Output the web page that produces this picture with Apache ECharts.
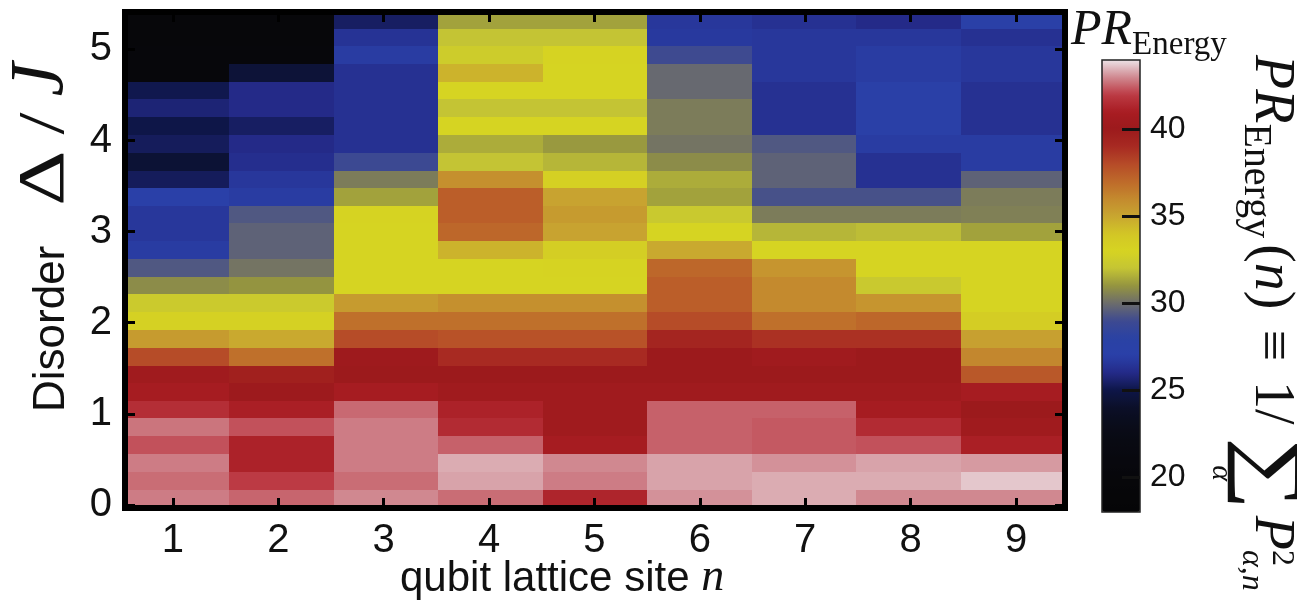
<!DOCTYPE html>
<html>
<head>
<meta charset="utf-8">
<script src="https://cdn.jsdelivr.net/npm/echarts@6/dist/echarts.min.js"></script>
<style>
  html, body { margin: 0; padding: 0; background: #fff; }
  #chart { width: 1297px; height: 606px; }
</style>
</head>
<body>
<div id="chart"></div>
<script>
// qubit lattice sites n
const sites = [1, 2, 3, 4, 5, 6, 7, 8, 9];
// disorder strength Δ/J at the centre of each row, bottom to top
const disorder = [0.07, 0.27, 0.46, 0.66, 0.85, 1.05, 1.24, 1.43, 1.63, 1.82, 2.02, 2.21, 2.41, 2.60,
                  2.80, 2.99, 3.19, 3.38, 3.57, 3.77, 3.96, 4.16, 4.35, 4.55, 4.74, 4.94, 5.13, 5.32];

// PR_Energy(n) per site, one value per disorder row (bottom to top)
const prSite1 = [42.85, 42.65, 42.85, 42.3, 42.75, 41.6, 40.8, 40.3, 38.0, 35.4, 33.2, 32.4, 30.8, 29.4,
                 26.8, 26.6, 26.6, 27.1, 25.3, 24.4, 25.3, 25.0, 25.7, 25.1, 20.0, 20.0, 19.5, 19.5];
const prSite2 = [42.55, 42.0, 41.2, 41.2, 42.3, 41.1, 40.1, 39.6, 36.8, 34.9, 33.2, 32.4, 31.0, 30.2,
                 29.7, 29.7, 29.4, 26.8, 26.6, 26.2, 26.0, 25.4, 26.0, 26.0, 24.5, 20.0, 19.8, 19.8];
const prSite3 = [43.0, 42.65, 42.85, 42.85, 42.85, 42.6, 40.8, 40.0, 40.2, 38.0, 36.8, 35.4, 33.0, 33.0,
                 33.0, 33.0, 33.1, 31.3, 30.4, 28.9, 26.3, 26.3, 26.3, 26.3, 26.3, 26.8, 26.4, 25.4];
const prSite4 = [42.65, 43.3, 43.4, 42.5, 41.5, 41.2, 40.3, 40.0, 39.0, 37.8, 36.8, 35.8, 33.0, 33.0,
                 34.6, 37.1, 37.4, 37.4, 35.8, 32.0, 31.5, 33.0, 32.0, 33.0, 34.6, 32.5, 32.0, 31.3];
const prSite5 = [41.3, 42.85, 43.0, 40.8, 40.3, 40.3, 40.3, 40.0, 39.0, 37.8, 36.8, 35.8, 33.0, 33.1,
                 33.4, 35.1, 35.4, 35.1, 33.3, 31.7, 31.1, 33.0, 32.0, 33.0, 33.0, 33.1, 32.0, 31.3];
const prSite6 = [43.1, 43.3, 43.3, 42.5, 42.5, 42.5, 40.3, 40.0, 40.0, 39.3, 38.0, 37.4, 37.4, 37.1,
                 34.9, 33.0, 32.3, 31.3, 31.5, 30.8, 30.2, 30.4, 30.4, 29.9, 29.9, 29.0, 26.7, 26.6];
const prSite7 = [43.4, 43.4, 43.1, 42.4, 42.4, 42.5, 40.3, 40.0, 40.3, 38.8, 36.8, 36.0, 36.0, 35.6,
                 33.0, 31.7, 30.4, 29.2, 29.7, 29.7, 29.4, 26.3, 26.3, 26.3, 26.6, 26.6, 26.6, 26.3];
const prSite8 = [43.0, 43.4, 43.3, 42.3, 41.5, 40.8, 40.3, 40.0, 40.0, 38.8, 37.1, 35.6, 32.3, 33.0,
                 33.0, 31.85, 30.4, 29.2, 26.3, 26.3, 26.8, 27.2, 27.2, 27.2, 26.8, 26.8, 26.6, 26.0];
const prSite9 = [43.0, 43.7, 43.2, 41.1, 40.3, 40.0, 40.8, 37.6, 36.1, 35.2, 33.5, 33.0, 33.0, 33.0,
                 33.0, 31.3, 30.5, 30.4, 29.7, 26.8, 26.8, 26.3, 26.3, 26.3, 26.6, 26.6, 26.3, 27.2];

// axis tick values
const disorderTicks = [0, 1, 2, 3, 4, 5];
const colorbarTicks = [20, 25, 30, 35, 40];
const prRange = [18, 44];

// colormap, evenly spaced from 18 to 44
const colormap = ['#050507', '#060608', '#07070b', '#08080e', '#090a12', '#0a0c1a', '#0b0f28', '#0e1648',
                  '#242a88', '#2a40a8', '#2a42a4', '#3e4a90', '#6c6c6c', '#949440', '#c4c434', '#d6d422',
                  '#d2c626', '#c8a630', '#c48a2e', '#be6a2a', '#b64c28', '#a82a22', '#9c1a1c', '#a81c22',
                  '#bc3a44', '#d08890', '#ece2e6'];

const SANS = "'Liberation Sans', Arial, Helvetica, sans-serif";
const SERIF = "'Liberation Serif', 'Times New Roman', serif";
const INK = '#111';

const columns = [prSite1, prSite2, prSite3, prSite4, prSite5, prSite6, prSite7, prSite8, prSite9];
const cells = [];
columns.forEach((col, i) => col.forEach((v, j) => cells.push([sites[i], disorder[j], v, j])));

// row edges sit halfway between neighbouring row centres
function rowEdges(j) {
  const d = disorder[j];
  const lo = j > 0 ? (disorder[j - 1] + d) / 2 : d - (disorder[1] - disorder[0]) / 2;
  const last = disorder.length - 1;
  const hi = j < last ? (disorder[j + 1] + d) / 2 : d + (d - disorder[last - 1]) / 2;
  return [lo, hi];
}

// typeset a short formula as a run of text pieces along a (possibly rotated) baseline
const measureCtx = document.createElement('canvas').getContext('2d');
function fontOf(p) { return (p.italic ? 'italic ' : '') + p.size + 'px ' + p.family; }
function formula(pieces, x, y, rotation) {
  let cursor = 0, prevStart = 0, prevWidth = 0;
  const children = [];
  pieces.forEach(p => {
    const font = fontOf(p);
    measureCtx.font = font;
    const w = measureCtx.measureText(p.text).width * (p.scaleX || 1);
    cursor += p.padL || 0;
    let px = cursor;
    if (p.under) px = prevStart + prevWidth / 2 - w / 2;
    children.push({
      type: 'text', x: px, y: (p.dy || 0) - 0.3 * p.size, scaleX: p.scaleX || 1,
      style: { text: p.text, font: font, fill: INK, align: 'left', verticalAlign: 'middle' }
    });
    if (!p.under) { prevStart = px; prevWidth = w; }
    if (!p.under && !p.stay) cursor += w + (p.padR || 0);
  });
  return { type: 'group', x: x, y: y, rotation: rotation, children: children };
}

const chart = echarts.init(document.getElementById('chart'), null, { renderer: 'canvas' });

const tickStyle = { color: '#000', width: 3 };
const noLine = { show: false, onZero: false };

chart.setOption({
  animation: false,
  backgroundColor: '#fff',
  grid: [
    { left: 125, top: 12, width: 940, height: 496, show: true, borderColor: '#000', borderWidth: 6,
      backgroundColor: 'transparent', z: 10 },
    { left: 1102, top: 60, width: 38, height: 452, show: true, borderColor: '#222', borderWidth: 1.5,
      backgroundColor: 'transparent', z: 10 }
  ],
  xAxis: [
    { gridIndex: 0, type: 'value', min: 0.5, max: 9.5, show: false, axisLine: noLine },
    { gridIndex: 0, type: 'value', position: 'bottom', min: 0.5446, max: 9.465, z: 11,
      axisLine: noLine, splitLine: { show: false },
      axisTick: { inside: true, length: 10, lineStyle: tickStyle, customValues: sites },
      axisLabel: { customValues: sites, fontSize: 40, fontFamily: SANS, color: INK, margin: 13 } },
    { gridIndex: 0, type: 'value', position: 'top', min: 0.5446, max: 9.465, z: 11,
      axisLine: noLine, splitLine: { show: false },
      axisTick: { inside: true, length: 10, lineStyle: tickStyle, customValues: sites },
      axisLabel: { show: false } },
    { gridIndex: 1, type: 'value', min: 0, max: 1, show: false, axisLine: noLine }
  ],
  yAxis: [
    { gridIndex: 0, type: 'value', position: 'left', min: -0.033, max: 5.41, z: 11,
      axisLine: noLine, splitLine: { show: false },
      axisTick: { inside: true, length: 10, lineStyle: tickStyle, customValues: disorderTicks },
      axisLabel: { customValues: disorderTicks, fontSize: 40, fontFamily: SANS, color: INK, margin: 13 } },
    { gridIndex: 0, type: 'value', position: 'right', min: -0.033, max: 5.41, z: 11,
      axisLine: noLine, splitLine: { show: false },
      axisTick: { inside: true, length: 10, lineStyle: tickStyle, customValues: disorderTicks },
      axisLabel: { show: false } },
    { gridIndex: 1, type: 'value', position: 'right', min: prRange[0], max: prRange[1], z: 12,
      axisLine: noLine, splitLine: { show: false },
      axisTick: { inside: true, length: 18, lineStyle: { color: '#111', width: 3 }, customValues: colorbarTicks },
      axisLabel: { customValues: colorbarTicks, fontSize: 32, fontFamily: SANS, color: INK, margin: 10 } }
  ],
  visualMap: {
    type: 'continuous', min: prRange[0], max: prRange[1], dimension: 2, seriesIndex: 0,
    left: 1102, top: 60, itemWidth: 38, itemHeight: 452, padding: 0,
    calculable: false, realtime: false, hoverLink: false, text: null,
    inRange: { color: colormap }
  },
  series: [{
    type: 'custom',
    xAxisIndex: 0, yAxisIndex: 0,
    clip: true,
    encode: { x: 0, y: 1 },
    data: cells,
    renderItem: function (params, api) {
      const n = api.value(0);
      const edges = rowEdges(api.value(3));
      const p0 = api.coord([n - 0.5, edges[0]]);
      const p1 = api.coord([n + 0.5, edges[1]]);
      const x0 = Math.round(p0[0]), x1 = Math.round(p1[0]);
      const yb = Math.round(p0[1]), yt = Math.round(p1[1]);
      return { type: 'rect', shape: { x: x0, y: yt, width: x1 - x0, height: yb - yt },
               style: { fill: api.visual('color') } };
    }
  }],
  graphic: [
    // x axis title
    formula([
      { text: 'qubit lattice site ', family: SANS, size: 42 },
      { text: 'n', family: SERIF, size: 46, italic: true }
    ], 400, 592, 0),
    // y axis title, reading upwards
    formula([
      { text: 'Disorder', family: SANS, size: 44, padR: 40 },
      { text: 'Δ', family: SERIF, size: 66, scaleX: 1.3, padR: 16 },
      { text: '/', family: SERIF, size: 66, scaleX: 1.2, padR: 16 },
      { text: 'J', family: SERIF, size: 76, italic: true }
    ], 65, 412, Math.PI / 2),
    // colorbar title
    formula([
      { text: 'P', family: SERIF, size: 50, italic: true },
      { text: 'R', family: SERIF, size: 50, italic: true },
      { text: 'Energy', family: SERIF, size: 33, dy: 9 }
    ], 1071, 46, 0),
    // definition, reading downwards
    formula([
      { text: 'P', family: SERIF, size: 56, italic: true },
      { text: 'R', family: SERIF, size: 56, italic: true },
      { text: 'Energy', family: SERIF, size: 40, dy: 11 },
      { text: '(', family: SERIF, size: 56, padL: 6 },
      { text: 'n', family: SERIF, size: 56, italic: true },
      { text: ')', family: SERIF, size: 56 },
      { text: '≡', family: SERIF, size: 56, padL: 20, padR: 20 },
      { text: '1', family: SERIF, size: 56 },
      { text: '/', family: SERIF, size: 56, padR: 6 },
      { text: '∑', family: SERIF, size: 82, dy: 12, padL: 6, scaleX: 1.25 },
      { text: 'α', family: SERIF, size: 30, italic: true, dy: 42, under: true },
      { text: 'P', family: SERIF, size: 56, italic: true, padL: 6 },
      { text: '2', family: SERIF, size: 32, dy: -18, stay: true },
      { text: 'α,n', family: SERIF, size: 32, italic: true, dy: 12 }
    ], 1254, 55, -Math.PI / 2)
  ]
});
</script>
</body>
</html>
